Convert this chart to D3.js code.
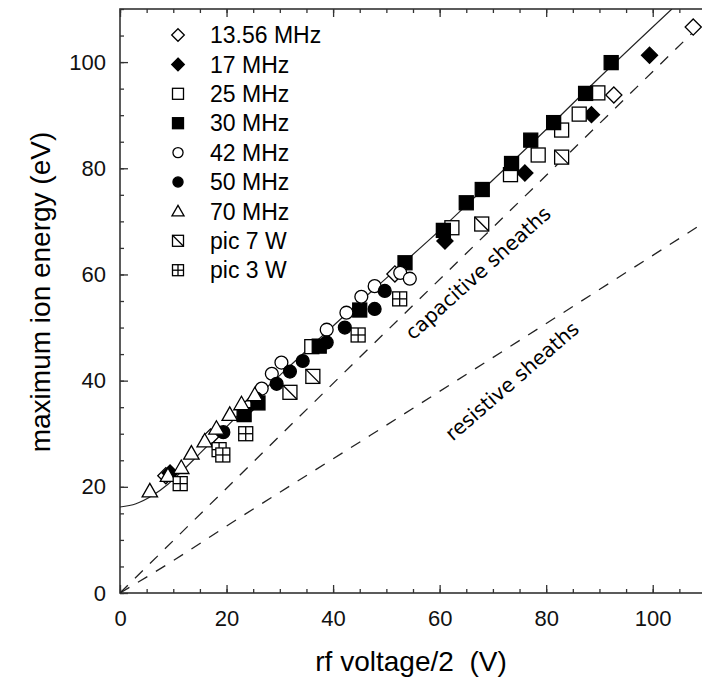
<!DOCTYPE html>
<html>
<head>
<meta charset="utf-8">
<script src="https://cdn.jsdelivr.net/npm/d3@7"></script>
<style>
body { margin: 0; background: #fff; }
svg { display: block; font-family: "Liberation Sans", Arial, sans-serif; }
</style>
</head>
<body>
<script>
// points: [rf voltage/2 (V), maximum ion energy (eV)]
var mhz1356 = [[8.6, 22.1], [17, 29.4], [24.2, 35.2], [51.6, 60.1], [92.7, 93.8], [107.6, 106.6]];
var mhz17 = [[9.4, 22.6], [61, 66.3], [76, 79.1], [88.5, 90.1], [99.4, 101.3]];
var mhz25 = [[36, 46.4], [62.3, 68.8], [73.3, 78.8], [78.5, 82.5], [82.9, 87.2], [86.2, 90.2], [89.7, 94.2]];
var mhz30 = [[23.3, 33.6], [25.9, 35.8], [37.4, 46.5], [45, 53.3], [53.5, 62.2], [60.7, 68.3], [65, 73.5],
    [68, 76], [73.5, 80.9], [77.1, 85.3], [81.4, 88.6], [87.4, 94.1], [92.2, 99.9]];
var mhz42 = [[26.6, 38.5], [28.5, 41.3], [30.3, 43.4], [38.8, 49.6], [42.5, 52.8], [45.3, 55.8], [47.8, 57.8],
    [52.6, 60.3], [54.4, 59.2]];
var mhz50 = [[19.4, 30.3], [25.6, 36.6], [29.4, 39.4], [31.9, 41.7], [34.3, 43.7], [38.8, 47.2], [42.2, 50],
    [47.8, 53.5], [49.7, 56.9]];
var mhz70 = [[5.6, 19.2], [9, 22.1], [11.5, 23.6], [13.4, 26.3], [15.9, 28.6], [18.1, 31], [20.6, 33.6],
    [22.8, 35.6], [25.3, 37.3]];
var pic7 = [[31.9, 37.8], [36.2, 40.8], [67.9, 69.5], [82.9, 82.1]];
var pic3 = [[11.3, 20.6], [18.6, 27], [19.3, 26], [23.6, 30], [44.7, 48.6], [52.5, 55.4]];

// model curves, also
var fitCurve = [[0, 16.2], [3, 16.8], [6, 18.3], [9, 20.5], [12, 23.3], [15, 26.3], [20, 31.3], [25, 36.3],
    [30, 41], [40, 50.3], [50, 59.3], [60, 68.3], [70, 77.8], [80, 87.3], [90, 97.1], [103.6, 110]];
var capLine = [[0, 0], [45, 44.4], [110, 108]];
var resLine = [[0, 0], [10, 6.1], [20, 12.6], [47, 29.7], [110, 70]];

var legendLabels = ['13.56 MHz', '17 MHz', '25 MHz', '30 MHz', '42 MHz', '50 MHz', '70 MHz', 'pic 7 W', 'pic 3 W'];
var majorTicks = [0, 20, 40, 60, 80, 100];
var minorTicks = d3.range(0, 111, 5);

var series = [
    {name: legendLabels[0], shape: 'diamond', filled: false, data: mhz1356},
    {name: legendLabels[1], shape: 'diamond', filled: true, data: mhz17},
    {name: legendLabels[2], shape: 'square', filled: false, data: mhz25},
    {name: legendLabels[3], shape: 'square', filled: true, data: mhz30},
    {name: legendLabels[4], shape: 'circle', filled: false, data: mhz42},
    {name: legendLabels[5], shape: 'circle', filled: true, data: mhz50},
    {name: legendLabels[6], shape: 'triangle', filled: false, data: mhz70},
    {name: legendLabels[7], shape: 'slash', filled: false, data: pic7},
    {name: legendLabels[8], shape: 'grid', filled: false, data: pic3}
];

var W = 702, H = 683;
var box = {left: 120, right: 706, top: 9, bottom: 593};

var x = d3.scaleLinear().domain([0, 110]).range([box.left, box.right]);
var y = d3.scaleLinear().domain([0, 110]).range([box.bottom, box.top]);

var svg = d3.select('body').append('svg')
    .attr('width', W)
    .attr('height', H);

svg.append('defs').append('clipPath')
    .attr('id', 'plot-clip')
    .append('rect')
    .attr('x', box.left)
    .attr('y', box.top)
    .attr('width', box.right - box.left)
    .attr('height', box.bottom - box.top);

//axes, ticks pointing into the plot
function addAxis(axisFn, scale, translate, values, size, labels, pad) {
    var a = axisFn(scale).tickValues(values).tickSize(-size).tickPadding(pad || 13);
    if (!labels) a.tickFormat('');
    var g = svg.append('g')
        .attr('transform', translate)
        .call(a);
    g.select('.domain').remove();
    g.selectAll('line').attr('stroke', '#333').attr('stroke-width', 1.3);
    g.selectAll('text').attr('font-size', 22).attr('fill', '#111')
        .attr('font-family', '"Liberation Sans", Arial, sans-serif');
    return g;
}

addAxis(d3.axisBottom, x, 'translate(0,' + box.bottom + ')', minorTicks, 4, false);
addAxis(d3.axisBottom, x, 'translate(0,' + box.bottom + ')', majorTicks, 8, true, 17);
addAxis(d3.axisTop, x, 'translate(0,' + box.top + ')', minorTicks, 4, false);
addAxis(d3.axisTop, x, 'translate(0,' + box.top + ')', majorTicks, 8, false);
addAxis(d3.axisLeft, y, 'translate(' + box.left + ',0)', minorTicks, 4, false);
addAxis(d3.axisLeft, y, 'translate(' + box.left + ',0)', majorTicks, 8, true, 14);

svg.append('rect')
    .attr('x', box.left)
    .attr('y', box.top)
    .attr('width', box.right - box.left)
    .attr('height', box.bottom - box.top)
    .attr('fill', 'none')
    .attr('stroke', '#333')
    .attr('stroke-width', 1.6);

//axis titles
svg.append('text')
    .attr('x', 411)
    .attr('y', 671)
    .attr('text-anchor', 'middle')
    .attr('font-size', 28)
    .style('white-space', 'pre')
    .text('rf voltage/2  (V)');

svg.append('text')
    .attr('transform', 'translate(50,292) rotate(-90)')
    .attr('text-anchor', 'middle')
    .attr('font-size', 28)
    .text('maximum ion energy (eV)');

//curves
var line = d3.line()
    .x(function (d) { return x(d[0]); })
    .y(function (d) { return y(d[1]); });

var plot = svg.append('g').attr('clip-path', 'url(#plot-clip)');

plot.append('path')
    .datum(capLine)
    .attr('d', line)
    .attr('fill', 'none')
    .attr('stroke', '#222')
    .attr('stroke-width', 1.3)
    .attr('stroke-dasharray', '11,10');

plot.append('path')
    .datum(resLine)
    .attr('d', line.curve(d3.curveMonotoneX))
    .attr('fill', 'none')
    .attr('stroke', '#222')
    .attr('stroke-width', 1.3)
    .attr('stroke-dasharray', '11,10');

plot.append('path')
    .datum(fitCurve)
    .attr('d', line.curve(d3.curveMonotoneX))
    .attr('fill', 'none')
    .attr('stroke', '#222')
    .attr('stroke-width', 1.2);

svg.append('text')
    .attr('transform', 'translate(478,273) rotate(-42)')
    .attr('text-anchor', 'middle')
    .attr('dy', '0.35em')
    .attr('font-size', 20)
    .attr('font-family', '"DejaVu Sans", sans-serif')
    .text('capacitive sheaths');

svg.append('text')
    .attr('transform', 'translate(512,381) rotate(-41)')
    .attr('text-anchor', 'middle')
    .attr('dy', '0.35em')
    .attr('font-size', 20)
    .attr('font-family', '"DejaVu Sans", sans-serif')
    .text('resistive sheaths');

//markers
function drawMarker(g, s, r) {
    var fill = s.filled ? '#000' : '#fff';
    var sw = 1.3;
    if (s.shape === 'diamond') {
        var d = r * 1.15;
        g.append('path')
            .attr('d', 'M0,' + (-d) + 'L' + d + ',0L0,' + d + 'L' + (-d) + ',0Z')
            .attr('fill', fill).attr('stroke', '#000').attr('stroke-width', sw);
    } else if (s.shape === 'circle') {
        g.append('circle')
            .attr('r', r * 0.92)
            .attr('fill', fill).attr('stroke', '#000').attr('stroke-width', sw);
    } else if (s.shape === 'triangle') {
        var t = r * 1.1;
        g.append('path')
            .attr('d', 'M0,' + (-t) + 'L' + t + ',' + (t * 0.75) + 'L' + (-t) + ',' + (t * 0.75) + 'Z')
            .attr('fill', fill).attr('stroke', '#000').attr('stroke-width', sw);
    } else {
        g.append('rect')
            .attr('x', -r).attr('y', -r)
            .attr('width', 2 * r).attr('height', 2 * r)
            .attr('fill', fill).attr('stroke', '#000').attr('stroke-width', sw);
        if (s.shape === 'slash') {
            g.append('line')
                .attr('x1', -r).attr('y1', -r).attr('x2', r).attr('y2', r)
                .attr('stroke', '#000').attr('stroke-width', sw);
        }
        if (s.shape === 'grid') {
            g.append('line')
                .attr('x1', -r).attr('y1', 0).attr('x2', r).attr('y2', 0)
                .attr('stroke', '#000').attr('stroke-width', sw);
            g.append('line')
                .attr('x1', 0).attr('y1', -r).attr('x2', 0).attr('y2', r)
                .attr('stroke', '#000').attr('stroke-width', sw);
        }
    }
}

series.forEach(function (s) {
    plot.selectAll(null)
        .data(s.data)
        .enter().append('g')
        .attr('transform', function (d) {
            return 'translate(' + x(d[0]) + ',' + y(d[1]) + ')';
        })
        .each(function () {
            drawMarker(d3.select(this), s, 7);
        });
});

//legend
var legend = svg.append('g');
series.forEach(function (s, i) {
    var row = legend.append('g')
        .attr('transform', 'translate(178,' + (35 + i * 29.4) + ')');
    drawMarker(row, s, 5.5);
    row.append('text')
        .attr('x', 32)
        .attr('dy', '0.36em')
        .attr('font-size', 23)
        .text(s.name);
});
</script>
</body>
</html>
